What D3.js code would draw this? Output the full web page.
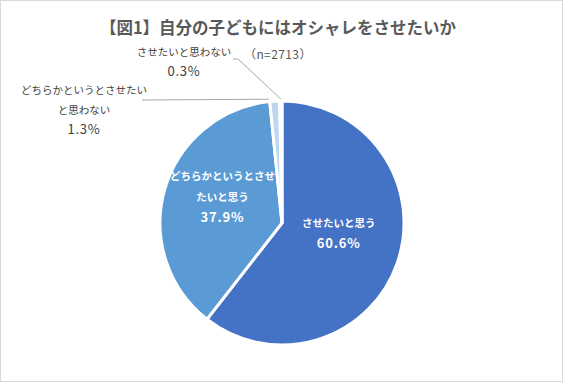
<!DOCTYPE html>
<html>
<head>
<meta charset="utf-8">
<script src="https://cdn.jsdelivr.net/npm/d3@7"></script>
<style>
  body { margin: 0; background: #fff; }
  text { font-family: "Noto Sans CJK JP", "Noto Sans", sans-serif; }
</style>
</head>
<body>
<div id="chart"></div>
<script>
// 自分の子どもにはオシャレをさせたいか (n=2713)
const categories = ["させたいと思う", "どちらかというとさせたいと思う", "どちらかというとさせたいと思わない", "させたいと思わない"];
const values = [60.6, 37.9, 1.3, 0.3];
const colors = ["#4472C4", "#5B9BD5", "#BDD7EE", "#DEEBF7"];
// label lines as drawn in the chart
const labelLines = [
  ["させたいと思う"],
  ["どちらかというとさせ", "たいと思う"],
  ["どちらかというとさせたい", "と思わない"],
  ["させたいと思わない"]
];

const width = 563, height = 382;
const cx = 282, cy = 223, radius = 122;

const svg = d3.select("#chart").append("svg")
  .attr("width", width)
  .attr("height", height);

svg.append("rect")
  .attr("x", 0.5).attr("y", 0.5)
  .attr("width", width - 1).attr("height", height - 1)
  .attr("fill", "#fff")
  .attr("stroke", "#d9d9d9");

svg.append("text")
  .attr("x", 278)
  .attr("y", 34)
  .attr("text-anchor", "middle")
  .attr("font-size", 16.5)
  .attr("font-weight", "bold")
  .attr("fill", "#595959")
  .text("【図1】自分の子どもにはオシャレをさせたいか");

svg.append("text")
  .attr("x", 244)
  .attr("y", 59)
  .attr("font-size", 12)
  .attr("letter-spacing", 0.4)
  .attr("fill", "#595959")
  .text("（n=2713）");

const data = categories.map((c, i) => ({ name: c, value: values[i], lines: labelLines[i], color: colors[i] }));

const pie = d3.pie().sort(null).value(d => d.value);
const arcs = pie(data);
const arc = d3.arc().innerRadius(0).outerRadius(radius);

const g = svg.append("g").attr("transform", `translate(${cx},${cy})`);

g.selectAll("path.slice")
  .data(arcs)
  .enter().append("path")
  .attr("class", "slice")
  .attr("d", arc)
  .attr("fill", d => d.data.color)
  .attr("stroke", "#fff")
  .attr("stroke-width", 3)
  .attr("stroke-linejoin", "miter");

// inside labels
const inside = [
  { i: 0, r: 60, dx: 0, dy: -9 },
  { i: 1, r: 62, dx: 0, dy: -9 }
];
inside.forEach(p => {
  const a = arcs[p.i];
  const mid = (a.startAngle + a.endAngle) / 2;
  const x = Math.sin(mid) * p.r + p.dx;
  const y = -Math.cos(mid) * p.r + p.dy;
  const t = g.append("text")
    .attr("text-anchor", "middle")
    .attr("fill", "#fff")
    .attr("font-weight", "bold");
  const lines = a.data.lines;
  const lineH = 21;
  const top = y - (lines.length) * lineH / 2;
  lines.forEach((l, k) => {
    t.append("tspan").attr("x", x).attr("y", top + k * lineH + 4)
      .attr("font-size", 10.5).text(l);
  });
  t.append("tspan").attr("x", x).attr("y", top + lines.length * lineH + 4)
    .attr("font-size", 13).attr("letter-spacing", 0.8)
    .text(d3.format(".1f")(a.data.value) + "%");
});

// outside labels with leader lines (relative to pie centre)
const outside = [
  { i: 2, x: -198, y: -133, line: [[-140, -123], [-12, -124]] },
  { i: 3, x: -98, y: -171, line: [[-49, -164], [-44, -164], [-2, -124]] }
];
outside.forEach(p => {
  const a = arcs[p.i];
  const mid = (a.startAngle + a.endAngle) / 2;
  const edge = [Math.sin(mid) * (radius + 1), -Math.cos(mid) * (radius + 1)];
  const pts = p.line.slice(0, -1).concat([[edge[0] + (p.i === 2 ? -6 : 0), edge[1] - 1]]);
  g.append("path")
    .attr("d", d3.line()(pts))
    .attr("fill", "none")
    .attr("stroke", "#a6a6a6")
    .attr("stroke-width", 1);
  const t = g.append("text")
    .attr("text-anchor", "middle")
    .attr("fill", "#404040");
  const lines = a.data.lines;
  lines.forEach((l, k) => {
    t.append("tspan").attr("x", p.x).attr("y", p.y + k * 20 + 4)
      .attr("font-size", 10.5).text(l);
  });
  t.append("tspan").attr("x", p.x).attr("y", p.y + lines.length * 20 + 4)
    .attr("font-size", 13).attr("letter-spacing", 0.8)
    .text(d3.format(".1f")(a.data.value) + "%");
});
</script>
</body>
</html>
